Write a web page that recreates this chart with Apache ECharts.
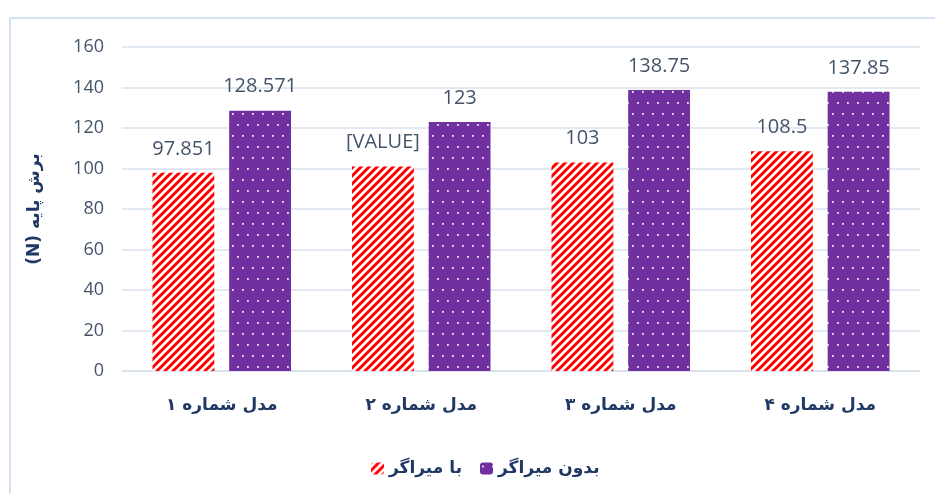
<!DOCTYPE html>
<html>
<head>
<meta charset="utf-8">
<script src="https://cdn.jsdelivr.net/npm/echarts@6/dist/echarts.min.js"></script>
<style>
  body { margin: 0; background: #fff; }
  #main { width: 935px; height: 494px; }
  #frame {
    position: absolute; left: 9px; top: 17px; width: 1000px; height: 1000px;
    border: 2px solid #d5e2f3; pointer-events: none;
  }
</style>
</head>
<body>
<div id="main" dir="rtl"></div>
<div id="frame"></div>
<script>
// data
var categories = ['مدل شماره ۱', 'مدل شماره ۲', 'مدل شماره ۳', 'مدل شماره ۴']
var seriesNames = ['با میراگر', 'بدون میراگر']
var withDamper = [97.851, 101, 103, 108.5]
var withoutDamper = [128.571, 123, 138.75, 137.85]
var yMin = 0
var yMax = 160
var yStep = 20

// hatch pattern for the red bars
function stripes() {
  var c = document.createElement('canvas')
  c.width = 8
  c.height = 8
  var ctx = c.getContext('2d')
  ctx.fillStyle = '#fff'
  ctx.fillRect(0, 0, 8, 8)
  ctx.strokeStyle = '#ff0000'
  ctx.lineWidth = 3
  ctx.beginPath()
  ctx.moveTo(-2, 10); ctx.lineTo(10, -2)
  ctx.moveTo(-6, 6); ctx.lineTo(6, -6)
  ctx.moveTo(2, 14); ctx.lineTo(14, 2)
  ctx.stroke()
  return c
}

// dotted pattern for the purple bars
function dots() {
  var c = document.createElement('canvas')
  c.width = 10
  c.height = 22
  var ctx = c.getContext('2d')
  ctx.fillStyle = '#7030a0'
  ctx.fillRect(0, 0, 10, 22)
  ctx.fillStyle = 'rgba(255,255,255,0.9)'
  ctx.fillRect(2, 3, 1.8, 1.8)
  ctx.fillRect(7, 14, 1.8, 1.8)
  return c
}

var textColor = '#44546a'
var navy = '#1f3864'

var chart = echarts.init(document.getElementById('main'))
chart.setOption({
  backgroundColor: '#fff',
  animation: false,
  grid: {
    left: 122,
    right: 15,
    top: 47,
    bottom: 123
  },
  legend: {
    data: seriesNames,
    left: 366,
    top: 455,
    itemWidth: 13,
    itemHeight: 12,
    itemGap: 18,
    textStyle: {
      color: navy,
      fontSize: 17,
      fontWeight: 'bold',
      fontFamily: 'DejaVu Sans'
    }
  },
  xAxis: {
    type: 'category',
    data: categories,
    axisTick: { show: false },
    axisLine: { lineStyle: { color: '#d6dfeb', width: 1.5 } },
    axisLabel: {
      margin: 26,
      color: navy,
      fontSize: 17,
      fontWeight: 'bold',
      fontFamily: 'DejaVu Sans'
    }
  },
  yAxis: {
    type: 'value',
    min: yMin,
    max: yMax,
    interval: yStep,
    name: 'برش پایه (N)',
    nameLocation: 'middle',
    nameRotate: 90,
    nameGap: 79,
    nameTextStyle: {
      color: navy,
      fontSize: 17,
      fontWeight: 'bold',
      fontFamily: 'DejaVu Sans'
    },
    axisLine: { show: false },
    axisTick: { show: false },
    axisLabel: {
      margin: 18,
      color: textColor,
      fontSize: 18,
      fontFamily: 'Open Sans'
    },
    splitLine: { lineStyle: { color: '#d9e2ef', width: 1.5 } }
  },
  series: [
    {
      name: seriesNames[0],
      type: 'bar',
      barWidth: '31%',
      barGap: '24%',
      itemStyle: { color: { image: stripes(), repeat: 'repeat' } },
      label: {
        show: true,
        position: 'top',
        distance: 14,
        color: textColor,
        fontSize: 20,
        fontFamily: 'Open Sans',
        formatter: function (p) {
          // the second label was left as a placeholder in the source chart
          return p.dataIndex === 1 ? '[VALUE]' : p.value
        }
      },
      data: withDamper
    },
    {
      name: seriesNames[1],
      type: 'bar',
      barWidth: '31%',
      barGap: '24%',
      itemStyle: { color: { image: dots(), repeat: 'repeat' } },
      label: {
        show: true,
        position: 'top',
        distance: 14,
        color: textColor,
        fontSize: 20,
        fontFamily: 'Open Sans'
      },
      data: withoutDamper
    }
  ]
})
</script>
</body>
</html>
